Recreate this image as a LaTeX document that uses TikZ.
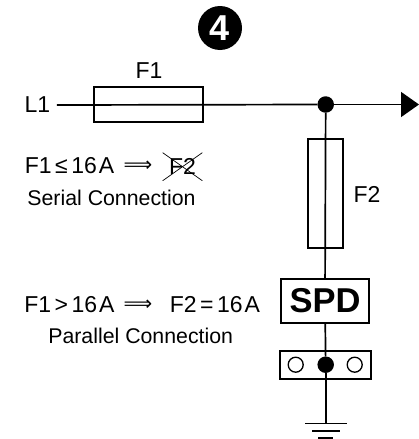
\documentclass[tikz,border=0pt]{standalone}
\usepackage{amsmath,amssymb}
\usepackage[no-math]{fontspec}
\setmainfont{Liberation Sans}
\newfontfamily\symbolfont{DejaVu Sans}
\usetikzlibrary{shapes,arrows.meta,positioning}

\newcommand{\relgap}{\hspace{3.5pt}}

\tikzset{
    wire/.style={line width=1.7pt},
    fuse/.style={draw, rectangle, line width=1.6pt, inner sep=0pt},
    lbl/.style={inner sep=0pt, font=\fontsize{23}{25}\selectfont},
    caption/.style={inner sep=0pt, font=\fontsize{21.3}{24}\selectfont},
    implies/.style={inner sep=0pt, font=\symbolfont\fontsize{20}{22}\selectfont},
    dot/.style={circle, fill=black, inner sep=0pt, minimum size=16.5pt},
    pin/.style={draw, circle, fill=white, line width=1.3pt, inner sep=0pt, minimum size=15pt},
    gndbar/.style={fill=black, rectangle, inner sep=0pt, minimum height=1.6pt}
}

\begin{document}
\begin{tikzpicture}[x=1pt, y=-1pt]
    \useasboundingbox (0,0) rectangle (419,439);

    \node[circle, fill=black, minimum size=44pt, inner sep=0pt, text=white, font=\fontsize{36}{36}\bfseries] (badge) at (220,28) {4};

    \node[lbl] (L1) at (37.5,105) {L1};
    \node[fuse, minimum width=109pt, minimum height=35.5pt] (F1) at (148.5,104.5) {};
    \node[lbl] (F1label) at (149,71) {F1};
    \node[dot] (junction) at (325.7,104.5) {};
    \coordinate (out) at (419,104.5);

    \draw[wire] (L1.east) ++(6.5,0) -- (junction);
    \draw[wire, -{Triangle[length=18pt, width=25pt]}] (junction) -- (out);

    \node[fuse, minimum width=35pt, minimum height=109pt] (F2) at (325.2,193.5) {};
    \node[lbl] (F2label) at (367,194) {F2};
    \node[draw, rectangle, line width=1.7pt, minimum width=88pt, minimum height=43.5pt, inner sep=0pt, font=\fontsize{34.5}{36}\bfseries] (SPD) at (325,301) {SPD};
    \node[fuse, minimum width=91pt, minimum height=28pt] (terminal) at (325.5,364.7) {};
    \node[pin] (pinleft) at (295.7,364.7) {};
    \node[dot] (pinmid) at (325.7,364.7) {};
    \node[pin] (pinright) at (354.7,364.7) {};

    \node[gndbar, minimum width=42pt] (gnd1) at (325.7,423.5) {};
    \node[gndbar, minimum width=28pt] (gnd2) at (325.7,430.7) {};
    \node[gndbar, minimum width=15pt] (gnd3) at (325.7,437.7) {};

    \draw[wire] (junction) -- (SPD);
    \draw[wire] (SPD) -- (pinmid);
    \draw[wire] (pinmid) -- (gnd1);

    \node[lbl] (serial) at (69.5,166) {F1\relgap≤\relgap 16\hspace{2pt}A};
    \node[implies] (serialarrow) at (138,166) {⟹};
    \node[lbl] (F2off) at (182.5,166) {F2};
    \coordinate (crossa) at (162.7,152.7);
    \coordinate (crossb) at (202.3,180.7);
    \coordinate (crossc) at (162.7,180.7);
    \coordinate (crossd) at (202.3,152.7);
    \draw[line width=0.7pt] (crossa) -- (crossb);
    \draw[line width=0.7pt] (crossc) -- (crossd);
    \node[caption] (serialtext) at (111.5,197.5) {Serial Connection};

    \node[lbl] (parallel) at (69.5,305) {F1\relgap>\relgap 16\hspace{2pt}A};
    \node[implies] (parallelarrow) at (138,305) {⟹};
    \node[lbl] (F2value) at (215,305) {F2\relgap=\relgap 16\hspace{2pt}A};
    \node[caption] (paralleltext) at (140.7,336) {Parallel Connection};
\end{tikzpicture}
\end{document}
